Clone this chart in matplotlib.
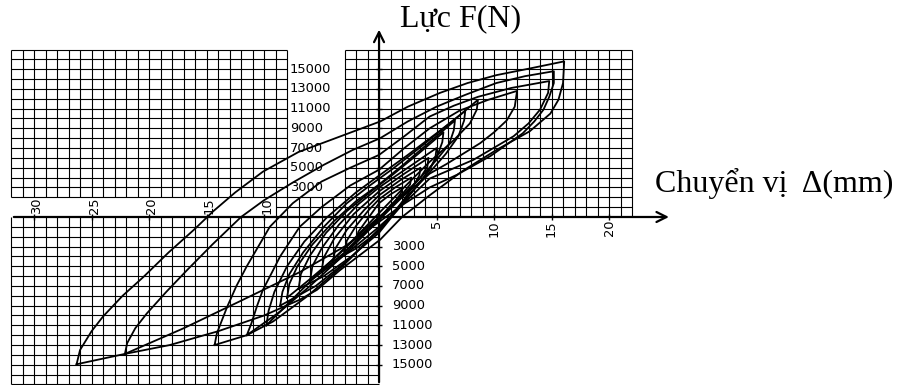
import matplotlib.pyplot as plt

# chuyen vi (mm), luc (kN) doc tu hinh
# moi vong: dinh am -> nhanh tren -> dinh duong -> nhanh duoi -> dinh am
loop_a = [(-26.3, -14.95), (-26.0, -13.5), (-25.0, -11.6), (-24.0, -10.1), (-22.3, -8.0),
          (-20.5, -6.1), (-18.3, -3.6), (-16.1, -1.3), (-14.4, 0.6), (-12.5, 2.5), (-10.1, 4.6),
          (-7.0, 6.6), (-3.1, 8.3), (0.1, 9.7), (2.5, 11.2), (5.3, 12.6), (7.7, 13.6),
          (10.2, 14.4), (13.2, 15.1), (16.1, 15.8),
          (16.0, 13.6), (15.6, 11.9), (14.9, 10.5), (13.1, 8.7), (10.2, 6.8), (7.3, 4.7),
          (4.4, 2.2), (2.0, 0.0), (0.1, -2.3), (-3.4, -5.4), (-5.4, -7.4), (-6.9, -8.4),
          (-10.0, -10.0), (-14.0, -11.6), (-18.2, -13.0), (-22.1, -13.9), (-26.3, -14.95)]
loop_b = [(-22.1, -13.9), (-21.9, -12.8), (-21.2, -11.3), (-20.2, -9.8), (-18.5, -7.6),
          (-16.7, -5.4), (-14.5, -2.8), (-12.0, 0.0), (-10.0, 1.7), (-7.5, 3.5), (-4.8, 5.3),
          (-2.3, 6.8), (0.1, 8.0), (2.5, 9.7), (5.0, 11.2), (7.5, 12.4), (10.2, 13.6),
          (12.7, 14.3), (15.2, 14.8),
          (15.2, 13.6), (14.8, 12.2), (14.3, 10.9), (13.5, 9.7), (12.5, 8.5), (9.7, 6.2),
          (6.8, 4.3), (4.4, 3.0), (2.0, 1.2), (0.0, -0.5), (-3.0, -3.0), (-6.9, -5.6),
          (-12.0, -8.5), (-17.0, -11.3), (-22.1, -13.9)]
loop_c = [(-14.3, -13.0), (-14.1, -11.8), (-13.2, -9.1), (-12.4, -7.0), (-11.5, -5.0),
          (-10.5, -3.0), (-9.5, -1.0), (-7.5, 1.4), (-5.0, 3.6), (-2.5, 5.0), (0.0, 6.3),
          (2.2, 8.2), (4.4, 10.2), (6.5, 11.3), (8.6, 12.2), (11.5, 13.1), (14.8, 13.8),
          (14.7, 12.6), (14.0, 10.9), (13.0, 9.5), (11.7, 8.2), (8.2, 5.8), (4.4, 3.9),
          (2.0, 1.2), (0.0, -1.2), (-3.0, -4.8), (-6.3, -8.1), (-9.2, -10.6), (-11.5, -12.0),
          (-14.3, -13.0)]
loop_d = [(-11.5, -12.0), (-11.1, -10.8), (-10.6, -9.0), (-10.1, -7.4), (-9.3, -5.6),
          (-8.6, -4.0), (-6.9, -1.0), (-5.0, 1.0), (-2.5, 3.2), (0.0, 4.8), (2.2, 7.0),
          (4.4, 9.0), (7.0, 10.8), (9.5, 11.9), (12.0, 12.8),
          (11.8, 11.2), (11.1, 9.8), (10.0, 8.6), (8.8, 7.5), (5.9, 5.4), (4.4, 4.4),
          (2.0, 2.0), (0.0, -0.3), (-3.0, -3.8), (-6.0, -7.0), (-8.6, -9.6), (-11.5, -12.0)]
loop_e = [(-9.8, -11.0), (-9.6, -9.5), (-9.1, -7.6), (-8.0, -5.0), (-6.5, -2.5), (-4.5, 0.0),
          (-2.0, 2.5), (0.0, 4.2), (2.5, 6.3), (5.0, 8.5), (7.0, 10.3), (8.6, 11.9),
          (8.5, 10.9), (7.9, 9.5), (6.5, 7.8), (4.4, 5.6), (2.0, 2.8), (0.0, 0.4),
          (-2.5, -2.6), (-5.0, -5.4), (-7.5, -8.3), (-9.8, -11.0)]
loop_f = [(-8.6, -9.0), (-8.4, -7.6), (-7.8, -5.8), (-6.6, -3.6), (-4.8, -1.0), (-2.8, 1.4),
          (-0.8, 3.2), (1.2, 4.9), (3.5, 7.0), (5.5, 8.9), (7.5, 10.8),
          (7.4, 9.8), (6.9, 8.2), (5.8, 6.4), (4.0, 4.0), (2.0, 1.5), (0.0, -1.3),
          (-2.5, -4.2), (-5.5, -7.0), (-8.6, -9.0)]
loop_g = [(-8.0, -8.2), (-7.8, -6.8), (-7.1, -5.0), (-5.8, -2.8), (-4.0, -0.5), (-2.0, 1.6),
          (0.0, 3.3), (2.2, 5.4), (4.5, 7.7), (6.6, 9.8),
          (6.5, 8.8), (6.1, 7.4), (5.0, 5.8), (3.3, 3.6), (1.2, 1.2), (-1.0, -1.0),
          (-3.6, -3.9), (-6.0, -6.3), (-8.0, -8.2)]
loop_h = [(-7.0, -7.3), (-6.8, -5.8), (-6.0, -3.9), (-4.6, -1.6), (-2.8, 0.6), (-0.8, 2.5),
          (1.3, 4.4), (3.5, 6.5), (5.6, 8.6),
          (5.5, 7.6), (5.0, 6.0), (4.0, 4.2), (2.2, 1.6), (0.0, -1.6), (-2.4, -4.0),
          (-4.8, -6.0), (-7.0, -7.3)]
loop_i = [(-6.0, -6.5), (-5.8, -5.0), (-5.0, -3.2), (-3.5, -0.8), (-1.8, 1.3), (0.0, 3.0),
          (2.5, 5.0), (5.0, 7.0),
          (4.9, 6.0), (4.4, 4.8), (3.2, 3.0), (1.5, 0.6), (0.0, -1.0), (-2.5, -3.4),
          (-4.5, -5.2), (-6.0, -6.5)]
loop_j = [(-5.0, -5.5), (-4.8, -4.1), (-3.9, -2.2), (-2.2, 0.3), (0.0, 2.6), (2.2, 4.4),
          (4.3, 6.0),
          (4.2, 5.1), (3.6, 4.0), (2.4, 2.6), (0.8, 0.8), (-1.0, -1.2), (-3.0, -3.6), (-5.0, -5.5)]
loop_k = [(-4.0, -4.5), (-3.8, -3.2), (-2.8, -1.3), (-1.3, 0.7), (0.0, 2.2), (1.8, 3.7),
          (3.6, 5.0),
          (3.5, 4.2), (2.9, 3.0), (1.7, 1.0), (0.0, -1.4), (-2.0, -3.2), (-4.0, -4.5)]
loop_l = [(-3.0, -3.5), (-2.8, -2.4), (-2.0, -0.9), (-0.9, 0.7), (0.0, 1.8), (1.4, 3.0),
          (2.8, 4.0),
          (2.7, 3.3), (2.0, 2.3), (1.0, 1.2), (0.0, -0.2), (-1.5, -2.0), (-3.0, -3.5)]
loop_m = [(-2.0, -2.5), (-1.8, -1.5), (-1.0, -0.2), (0.0, 1.4), (1.0, 2.3), (2.0, 3.0),
          (1.9, 2.4), (1.2, 1.3), (0.0, -0.3), (-1.0, -1.4), (-2.0, -2.5)]

loops = [loop_a, loop_b, loop_c, loop_d, loop_e, loop_f, loop_g,
         loop_h, loop_i, loop_j, loop_k, loop_l, loop_m]

x_ticks_pos = [5, 10, 15, 20]
x_ticks_neg = [-30, -25, -20, -15, -10]
y_ticks = [3000, 5000, 7000, 9000, 11000, 13000, 15000]

fig = plt.figure(figsize=(9.23, 3.85), dpi=100)
ax = fig.add_axes([0, 0, 1, 1])
ax.set_xlim(-32.96, 47.30)
ax.set_ylim(-17056, 22030)
ax.axis('off')

# luoi o vuong (1 mm x 1000 N)
gc = dict(color='black', lw=0.8, zorder=1)
for x in range(-32, 23):
    if x < 0:
        ax.vlines(x, -17000, 0, **gc)
        if x <= -10:
            ax.vlines(x, 2000, 17000, **gc)
        elif -7 <= x <= -4:
            ax.vlines(x, 0, 2000, **gc)
        else:
            ax.vlines(x, 0, 17000, **gc)
    elif x > 0:
        ax.vlines(x, 0, 17000, **gc)
for k in range(-17, 18):
    y = k * 1000
    if k < 0:
        ax.hlines(y, -32, 0, **gc)
    elif k == 1:
        ax.hlines(y, -9, 22, **gc)
    elif k == 2:
        ax.hlines(y, -32, 22, **gc)
    elif k >= 3:
        ax.hlines(y, -32, -8, **gc)
        ax.hlines(y, -3, 22, **gc)

# truc toa do
arr = dict(arrowstyle='->', lw=1.6, color='black', mutation_scale=18)
ax.annotate('', xy=(25.45, 0), xytext=(-32, 0), arrowprops=arr, zorder=4)
ax.annotate('', xy=(0, 19300), xytext=(0, -17056), arrowprops=arr, zorder=4)

tick_font = dict(family='DejaVu Sans', fontsize=9.4, zorder=2)
for v in x_ticks_pos:
    ax.plot(v, 0, marker='|', ms=4, color='black', zorder=4)
    ax.text(v, -300, str(v), rotation=90, ha='center', va='top', **tick_font)
for v in x_ticks_neg:
    ax.plot(v, 0, marker='|', ms=4, color='black', zorder=4)
    ax.text(v + 0.25, 300, str(-v), rotation=90, ha='center', va='bottom', **tick_font)
for v in y_ticks:
    ax.plot(0, v, marker='_', ms=4, color='black', zorder=4)
    ax.plot(0, -v, marker='_', ms=4, color='black', zorder=4)
    ax.text(-7.75, v, str(v), ha='left', va='center', **tick_font)
    ax.text(1.1, -v, str(v), ha='left', va='center', **tick_font)

# cac vong tre
for lp in loops:
    xs = [p[0] for p in lp]
    fs = [p[1] * 1000 for p in lp]
    ax.plot(xs, fs, color='black', lw=1.3, zorder=3, solid_joinstyle='round')

fig.text(400 / 923, 1 - 26 / 385, 'Lực F(N)', family='Liberation Serif',
         fontsize=23, ha='left', va='baseline')
fig.text(655 / 923, 1 - 192 / 385, 'Chuyển vị  Δ(mm)', family='Liberation Serif',
         fontsize=23, ha='left', va='baseline')

fig.savefig('out.png', dpi=100)
